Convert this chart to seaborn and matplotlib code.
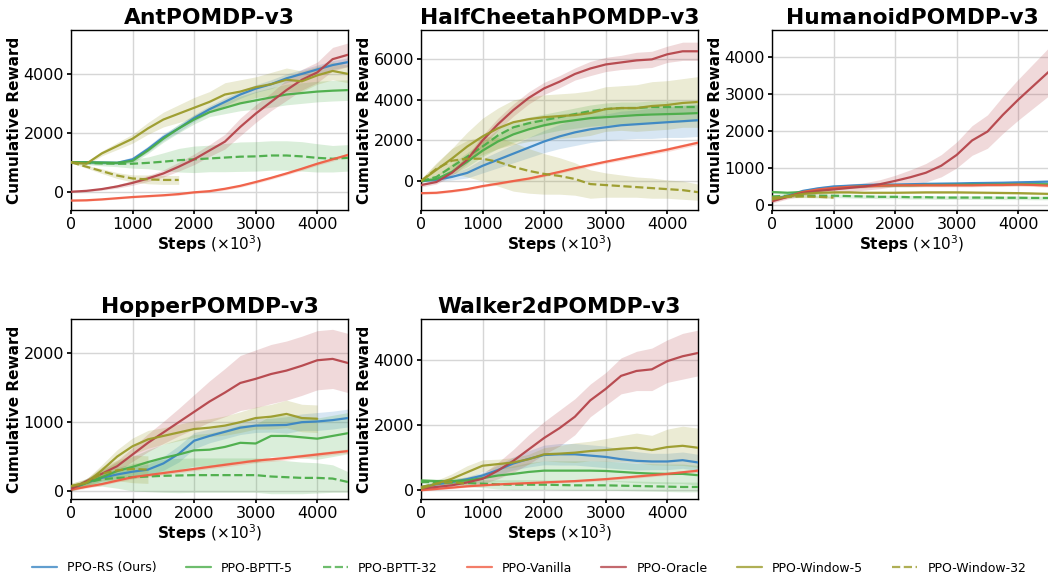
import numpy as np
import pandas as pd
import seaborn as sns
import matplotlib
matplotlib.use("Agg")
import matplotlib.pyplot as plt
from matplotlib.lines import Line2D

# ---------------- data ----------------
steps = [0, 250, 500, 750, 1000, 1250, 1500, 1750, 2000, 2250, 2500,
         2750, 3000, 3250, 3500, 3750, 4000, 4250, 4500]

methods = ["PPO-RS (Ours)", "PPO-BPTT-5", "PPO-BPTT-32", "PPO-Vanilla",
           "PPO-Oracle", "PPO-Window-5", "PPO-Window-32"]
envs = ["AntPOMDP-v3", "HalfCheetahPOMDP-v3", "HumanoidPOMDP-v3",
        "HopperPOMDP-v3", "Walker2dPOMDP-v3"]

ant_mean = {
    "PPO-RS (Ours)": [1000, 1000, 990, 980, 1100, 1450, 1850, 2150, 2500, 2800, 3050, 3300, 3500, 3650, 3850, 4000, 4150, 4300, 4400],
    "PPO-BPTT-5": [1000, 1000, 990, 980, 1050, 1400, 1800, 2150, 2450, 2700, 2850, 3000, 3100, 3200, 3300, 3350, 3400, 3430, 3450],
    "PPO-BPTT-32": [1000, 980, 960, 950, 950, 980, 1020, 1070, 1100, 1130, 1160, 1190, 1200, 1230, 1230, 1200, 1150, 1120, 1150],
    "PPO-Vanilla": [-300, -290, -260, -220, -180, -150, -120, -80, -20, 20, 100, 200, 330, 470, 620, 780, 950, 1100, 1250],
    "PPO-Oracle": [0, 30, 90, 180, 300, 450, 620, 850, 1100, 1400, 1700, 2200, 2650, 3050, 3450, 3800, 4050, 4500, 4650],
    "PPO-Window-5": [1000, 950, 1300, 1550, 1800, 2150, 2450, 2650, 2850, 3050, 3300, 3400, 3550, 3650, 3800, 3750, 3950, 4100, 4000],
    "PPO-Window-32": [1000, 850, 700, 550, 450, 420, 400, 400],
}
ant_std = {
    "PPO-RS (Ours)": [50, 50, 50, 60, 80, 100, 120, 120, 120, 120, 130, 130, 130, 150, 150, 150, 150, 150, 150],
    "PPO-BPTT-5": [50, 50, 50, 50, 80, 100, 120, 150, 150, 150, 200, 250, 300, 330, 350, 350, 350, 350, 350],
    "PPO-BPTT-32": [30, 60, 80, 100, 150, 200, 300, 400, 450, 450, 480, 500, 500, 500, 500, 500, 480, 450, 450],
    "PPO-Vanilla": [30, 30, 30, 30, 30, 35, 35, 40, 40, 40, 45, 45, 50, 50, 50, 55, 55, 60, 60],
    "PPO-Oracle": [20, 30, 40, 60, 80, 100, 120, 150, 180, 200, 250, 300, 300, 300, 350, 350, 350, 400, 400],
    "PPO-Window-5": [30, 50, 80, 120, 150, 200, 250, 300, 350, 350, 400, 400, 350, 400, 400, 350, 300, 300, 300],
    "PPO-Window-32": [20, 50, 80, 100, 120, 150, 150, 150],
}

cheetah_mean = {
    "PPO-RS (Ours)": [0, 60, 200, 400, 750, 1050, 1350, 1650, 1950, 2200, 2400, 2550, 2650, 2750, 2800, 2850, 2900, 2950, 3000],
    "PPO-BPTT-5": [0, 100, 450, 950, 1500, 1950, 2300, 2550, 2750, 2900, 3000, 3100, 3150, 3200, 3250, 3280, 3300, 3320, 3350],
    "PPO-BPTT-32": [0, 200, 700, 1200, 1700, 2250, 2650, 2850, 3000, 3150, 3300, 3450, 3550, 3600, 3600, 3650, 3650, 3650, 3650],
    "PPO-Vanilla": [-600, -580, -500, -400, -250, -130, 0, 120, 280, 450, 630, 790, 950, 1100, 1250, 1400, 1550, 1720, 1890],
    "PPO-Oracle": [-200, -50, 400, 1050, 2000, 2800, 3500, 4100, 4570, 4900, 5280, 5550, 5750, 5850, 5950, 6000, 6250, 6400, 6400],
    "PPO-Window-5": [0, 550, 1100, 1700, 2200, 2600, 2900, 3050, 3150, 3200, 3250, 3350, 3550, 3600, 3600, 3700, 3750, 3850, 3900],
    "PPO-Window-32": [0, 600, 1000, 1100, 1100, 950, 700, 500, 350, 250, 100, -150, -200, -250, -300, -350, -400, -450, -550],
}
cheetah_std = {
    "PPO-RS (Ours)": [50, 80, 150, 250, 350, 400, 450, 500, 550, 600, 650, 650, 650, 700, 700, 750, 750, 800, 800],
    "PPO-BPTT-5": [30, 80, 150, 250, 300, 350, 400, 400, 400, 400, 400, 400, 400, 400, 400, 400, 400, 400, 400],
    "PPO-BPTT-32": [30, 80, 150, 200, 250, 300, 300, 300, 300, 300, 300, 300, 300, 300, 300, 300, 300, 300, 300],
    "PPO-Vanilla": [60, 60, 60, 60, 60, 60, 60, 70, 70, 70, 80, 80, 80, 90, 90, 90, 100, 100, 100],
    "PPO-Oracle": [100, 100, 150, 200, 250, 300, 300, 300, 300, 300, 300, 350, 350, 350, 400, 400, 400, 450, 450],
    "PPO-Window-5": [100, 300, 500, 700, 900, 1000, 1100, 1100, 1100, 1100, 1100, 1100, 1100, 1100, 1150, 1200, 1200, 1200, 1250],
    "PPO-Window-32": [100, 300, 600, 900, 1100, 1200, 1200, 1100, 1000, 900, 800, 700, 600, 550, 500, 500, 450, 450, 400],
}

humanoid_mean = {
    "PPO-RS (Ours)": [150, 250, 380, 450, 500, 520, 540, 550, 550, 560, 570, 575, 580, 590, 595, 600, 610, 620, 630],
    "PPO-BPTT-5": [350, 330, 350, 400, 450, 480, 510, 520, 530, 530, 540, 540, 545, 550, 550, 555, 560, 560, 560],
    "PPO-BPTT-32": [230, 250, 250, 250, 250, 240, 230, 220, 220, 210, 210, 200, 200, 200, 200, 195, 195, 190, 190],
    "PPO-Vanilla": [120, 220, 350, 420, 460, 490, 500, 520, 530, 530, 530, 530, 530, 530, 540, 540, 550, 540, 520],
    "PPO-Oracle": [100, 220, 330, 380, 420, 460, 500, 560, 650, 750, 870, 1060, 1350, 1740, 1980, 2430, 2840, 3220, 3600],
    "PPO-Window-5": [150, 230, 300, 330, 340, 340, 330, 330, 330, 335, 340, 340, 340, 335, 330, 325, 320, 310, 300],
    "PPO-Window-32": [200, 220, 230, 220, 200],
}
humanoid_std = {
    "PPO-RS (Ours)": [30, 30, 40, 40, 40, 40, 40, 40, 40, 40, 40, 40, 40, 40, 40, 40, 40, 40, 40],
    "PPO-BPTT-5": [40, 40, 40, 40, 40, 40, 40, 40, 40, 40, 40, 40, 40, 40, 40, 40, 40, 40, 40],
    "PPO-BPTT-32": [50, 50, 50, 50, 50, 50, 50, 50, 50, 50, 50, 50, 50, 50, 50, 50, 50, 50, 50],
    "PPO-Vanilla": [40, 40, 40, 40, 40, 40, 40, 40, 40, 40, 40, 40, 40, 40, 40, 40, 40, 40, 40],
    "PPO-Oracle": [50, 60, 80, 90, 100, 100, 100, 120, 150, 200, 250, 300, 350, 400, 450, 500, 550, 600, 650],
    "PPO-Window-5": [30, 30, 30, 30, 30, 30, 30, 30, 30, 30, 30, 30, 30, 30, 30, 30, 30, 30, 30],
    "PPO-Window-32": [30, 30, 30, 30, 30],
}

hopper_mean = {
    "PPO-RS (Ours)": [30, 120, 190, 240, 280, 310, 400, 540, 730, 800, 860, 920, 950, 955, 960, 1000, 1010, 1030, 1060],
    "PPO-BPTT-5": [30, 120, 200, 290, 350, 420, 480, 530, 590, 600, 640, 700, 690, 800, 800, 780, 760, 800, 840],
    "PPO-BPTT-32": [30, 120, 170, 190, 200, 210, 220, 225, 230, 230, 230, 230, 230, 210, 200, 190, 190, 180, 130],
    "PPO-Vanilla": [20, 60, 100, 150, 200, 230, 260, 290, 320, 350, 380, 410, 440, 460, 480, 505, 530, 555, 580],
    "PPO-Oracle": [30, 140, 250, 360, 530, 700, 850, 1000, 1150, 1300, 1430, 1570, 1630, 1700, 1750, 1820, 1900, 1920, 1860],
    "PPO-Window-5": [70, 120, 300, 500, 650, 750, 800, 850, 900, 920, 950, 1000, 1060, 1080, 1120, 1060, 1050],
    "PPO-Window-32": [70, 120, 250, 300, 320, 310],
}
hopper_std = {
    "PPO-RS (Ours)": [30, 40, 50, 60, 70, 80, 100, 120, 120, 100, 100, 100, 100, 100, 120, 120, 130, 130, 130],
    "PPO-BPTT-5": [30, 60, 100, 130, 150, 180, 200, 220, 230, 240, 250, 260, 280, 300, 300, 300, 300, 300, 300],
    "PPO-BPTT-32": [30, 60, 100, 150, 200, 220, 240, 250, 250, 250, 250, 250, 250, 250, 240, 230, 220, 200, 150],
    "PPO-Vanilla": [20, 20, 20, 20, 25, 25, 25, 25, 25, 25, 30, 30, 30, 30, 30, 30, 30, 30, 30],
    "PPO-Oracle": [20, 40, 60, 80, 100, 130, 160, 200, 250, 300, 350, 400, 420, 430, 430, 430, 430, 430, 430],
    "PPO-Window-5": [40, 50, 80, 100, 120, 130, 120, 120, 120, 130, 140, 150, 160, 180, 200, 200, 200],
    "PPO-Window-32": [40, 60, 100, 150, 200, 200],
}

walker_mean = {
    "PPO-RS (Ours)": [100, 180, 250, 340, 450, 620, 820, 960, 1080, 1100, 1100, 1060, 1020, 950, 900, 880, 880, 920, 850],
    "PPO-BPTT-5": [300, 280, 280, 300, 370, 450, 500, 560, 600, 600, 600, 600, 590, 560, 530, 510, 500, 500, 460],
    "PPO-BPTT-32": [250, 250, 240, 220, 200, 180, 170, 170, 170, 160, 150, 150, 150, 140, 130, 120, 110, 100, 100],
    "PPO-Vanilla": [0, 40, 80, 120, 150, 180, 200, 220, 240, 260, 280, 310, 340, 380, 420, 460, 500, 550, 600],
    "PPO-Oracle": [50, 100, 150, 240, 350, 600, 900, 1250, 1600, 1900, 2250, 2750, 3100, 3500, 3650, 3700, 3950, 4100, 4200],
    "PPO-Window-5": [50, 200, 350, 550, 750, 800, 850, 950, 1100, 1120, 1150, 1200, 1230, 1270, 1300, 1230, 1320, 1360, 1300],
    "PPO-Window-32": [100, 200, 250, 200],
}
walker_std = {
    "PPO-RS (Ours)": [50, 60, 70, 80, 100, 150, 200, 250, 300, 330, 330, 330, 330, 300, 280, 250, 250, 250, 250],
    "PPO-BPTT-5": [50, 60, 80, 100, 150, 200, 250, 280, 300, 300, 300, 300, 300, 300, 300, 300, 300, 300, 300],
    "PPO-BPTT-32": [50, 70, 80, 100, 120, 140, 150, 150, 150, 150, 150, 150, 150, 150, 150, 150, 150, 150, 150],
    "PPO-Vanilla": [30, 30, 30, 30, 30, 30, 35, 35, 35, 35, 40, 40, 40, 40, 45, 45, 45, 50, 50],
    "PPO-Oracle": [30, 50, 80, 120, 150, 250, 350, 450, 500, 550, 550, 500, 500, 550, 600, 650, 650, 700, 700],
    "PPO-Window-5": [50, 100, 150, 200, 180, 150, 150, 150, 200, 250, 300, 300, 350, 400, 450, 450, 550, 600, 600],
    "PPO-Window-32": [50, 50, 50, 50],
}

env_means = [ant_mean, cheetah_mean, humanoid_mean, hopper_mean, walker_mean]
env_stds = [ant_std, cheetah_std, humanoid_std, hopper_std, walker_std]
env_ylims = [(-620, 5490), (-1430, 7450), (-135, 4720), (-117, 2500), (-268, 5240)]

# ---------------- style ----------------
colors = {
    "PPO-RS (Ours)": "#3a86c4",
    "PPO-BPTT-5": "#4aad48",
    "PPO-BPTT-32": "#4aad48",
    "PPO-Vanilla": "#f05d44",
    "PPO-Oracle": "#b5444a",
    "PPO-Window-5": "#9b9b2a",
    "PPO-Window-32": "#9b9b2a",
}
dashes = {"PPO-BPTT-32": True, "PPO-Window-32": True}

sns.set_theme(style="whitegrid")
plt.rcParams["font.family"] = ["DejaVu Sans"]
for key in ["text.color", "axes.labelcolor", "xtick.color", "ytick.color", "axes.edgecolor"]:
    plt.rcParams[key] = "black"
plt.rcParams["grid.color"] = "#d6d6d6"

fig = plt.figure(figsize=(10.48, 5.8), dpi=100)
W, H = 1048, 580
pos = [(71, 30), (421, 30), (772, 30), (71, 319), (421, 319)]
aw, ah = 277, 180

for i, env in enumerate(envs):
    L, T = pos[i]
    w = aw + (3 if i == 2 else 0)
    ax = fig.add_axes([L / W, 1 - (T + ah) / H, w / W, ah / H])
    means, stds = env_means[i], env_stds[i]
    for m in methods:
        y = np.array(means[m], dtype=float)
        s = np.array(stds[m], dtype=float)
        x = np.array(steps[:len(y)], dtype=float)
        df = pd.DataFrame({"x": x, "y": y})
        ls = "--" if dashes.get(m) else "-"
        sns.lineplot(data=df, x="x", y="y", ax=ax, color=colors[m],
                     linestyle=ls, linewidth=1.6, alpha=0.95, zorder=3)
        ax.fill_between(x, y - s, y + s, color=colors[m], alpha=0.2,
                        linewidth=0, zorder=2)
    ax.set_xlim(0, 4500 * w / aw)
    ax.set_ylim(*env_ylims[i])
    ax.set_xticks([0, 1000, 2000, 3000, 4000])
    ax.set_title(env, fontsize=15.7, fontweight="bold", pad=4)
    ax.set_ylabel("Cumulative Reward", fontsize=11, fontweight="bold", labelpad=1)
    ax.set_xlabel(r"$\mathbf{Steps}$ ($\times10^3$)", fontsize=11, labelpad=1)
    ax.tick_params(axis="both", labelsize=11.5, length=3, pad=2, left=True,
                   bottom=True, colors="black")
    for sp in ax.spines.values():
        sp.set_color("black")
        sp.set_linewidth(1.0)
    ax.grid(True, color="#d6d6d6", linewidth=1.0)
    if ax.get_legend():
        ax.get_legend().remove()

handles = [Line2D([0], [0], color=colors[m], linestyle="--" if dashes.get(m) else "-",
                  linewidth=1.6, alpha=0.8) for m in methods]
fig.legend(handles, methods, loc="center", bbox_to_anchor=(0.505, 12 / H),
           ncol=7, frameon=False, fontsize=9, columnspacing=2.35)

fig.savefig("out.png", dpi=100)
